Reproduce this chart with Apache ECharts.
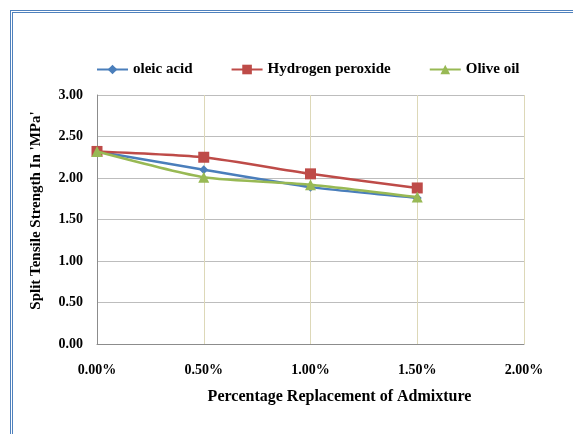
<!DOCTYPE html>
<html>
<head>
<meta charset="utf-8">
<script src="https://cdn.jsdelivr.net/npm/echarts@6/dist/echarts.min.js"></script>
<style>
  html, body { margin: 0; padding: 0; background: #fff; }
  #frame { position: absolute; left: 10px; top: 10px; width: 640px; height: 520px;
           border-left: 3px double #4f81bd; border-top: 3px double #4f81bd; box-sizing: border-box; }
  #chart { position: absolute; left: 0; top: 0; width: 573px; height: 434px; }
</style>
</head>
<body>
<div id="frame"></div>
<div id="chart"></div>
<script>
// Admixture replacement levels (fraction) and split tensile strength (MPa)
const replacement = [0, 0.005, 0.010, 0.015];
const oleicAcid = [2.32, 2.10, 1.89, 1.76];
const hydrogenPeroxide = [2.32, 2.25, 2.05, 1.88];
const oliveOil = [2.32, 2.01, 1.92, 1.77];
const seriesNames = ['oleic acid', 'Hydrogen peroxide', 'Olive oil'];

const pairs = (ys) => replacement.map((x, i) => [x, ys[i]]);
const serif = '"Liberation Serif", "DejaVu Serif", serif';

const chart = echarts.init(document.getElementById('chart'), null, { renderer: 'canvas' });
chart.setOption({
  animation: false,
  backgroundColor: 'transparent',
  legend: {
    top: 57,
    left: 91,
    itemGap: 38,
    itemWidth: 31,
    itemHeight: 12,
    textStyle: { fontFamily: serif, fontWeight: 'bold', fontSize: 15, color: '#000' },
    data: seriesNames
  },
  grid: { left: 97, top: 95, width: 427, height: 249, containLabel: false },
  xAxis: {
    type: 'value',
    min: 0, max: 0.02, interval: 0.005,
    name: 'Percentage Replacement of Admixture',
    nameLocation: 'middle',
    nameGap: 45,
    nameTextStyle: {
      fontFamily: serif, fontWeight: 'bold', fontSize: 16, color: '#000',
      padding: [0, 0, 0, 58]
    },
    axisLine: { lineStyle: { color: '#8c8c8c', width: 1 } },
    axisTick: { show: false },
    axisLabel: {
      margin: 19,
      fontFamily: serif, fontWeight: 'bold', fontSize: 14, color: '#000',
      formatter: (v) => (v * 100).toFixed(2) + '%'
    },
    splitLine: { show: true, lineStyle: { color: '#ddd8b8', width: 1 } }
  },
  yAxis: {
    type: 'value',
    min: 0, max: 3, interval: 0.5,
    name: "Split Tensile Strength In 'MPa'",
    nameLocation: 'middle',
    nameGap: 53,
    nameTextStyle: {
      fontFamily: serif, fontWeight: 'bold', fontSize: 15, color: '#000',
      padding: [0, 0, 0, 18]
    },
    axisLine: { show: true, lineStyle: { color: '#8c8c8c', width: 1 } },
    axisTick: { show: false },
    axisLabel: {
      margin: 14,
      fontFamily: serif, fontWeight: 'bold', fontSize: 14, color: '#000',
      formatter: (v) => v.toFixed(2)
    },
    splitLine: { show: true, lineStyle: { color: '#bdbdbd', width: 1 } }
  },
  series: [
    {
      name: seriesNames[0], type: 'line', data: pairs(oleicAcid),
      smooth: 0.2, symbol: 'diamond', symbolSize: 9,
      lineStyle: { color: '#4a7ebb', width: 2.5 },
      itemStyle: { color: '#4a7ebb' }, z: 2
    },
    {
      name: seriesNames[1], type: 'line', data: pairs(hydrogenPeroxide),
      smooth: 0.2, symbol: 'rect', symbolSize: 11,
      lineStyle: { color: '#be4b48', width: 2.5 },
      itemStyle: { color: '#be4b48' }, z: 3
    },
    {
      name: seriesNames[2], type: 'line', data: pairs(oliveOil),
      smooth: 0.2, symbol: 'triangle', symbolSize: 11,
      lineStyle: { color: '#98b954', width: 2.5 },
      itemStyle: { color: '#98b954' }, z: 4
    }
  ]
});
</script>
</body>
</html>
